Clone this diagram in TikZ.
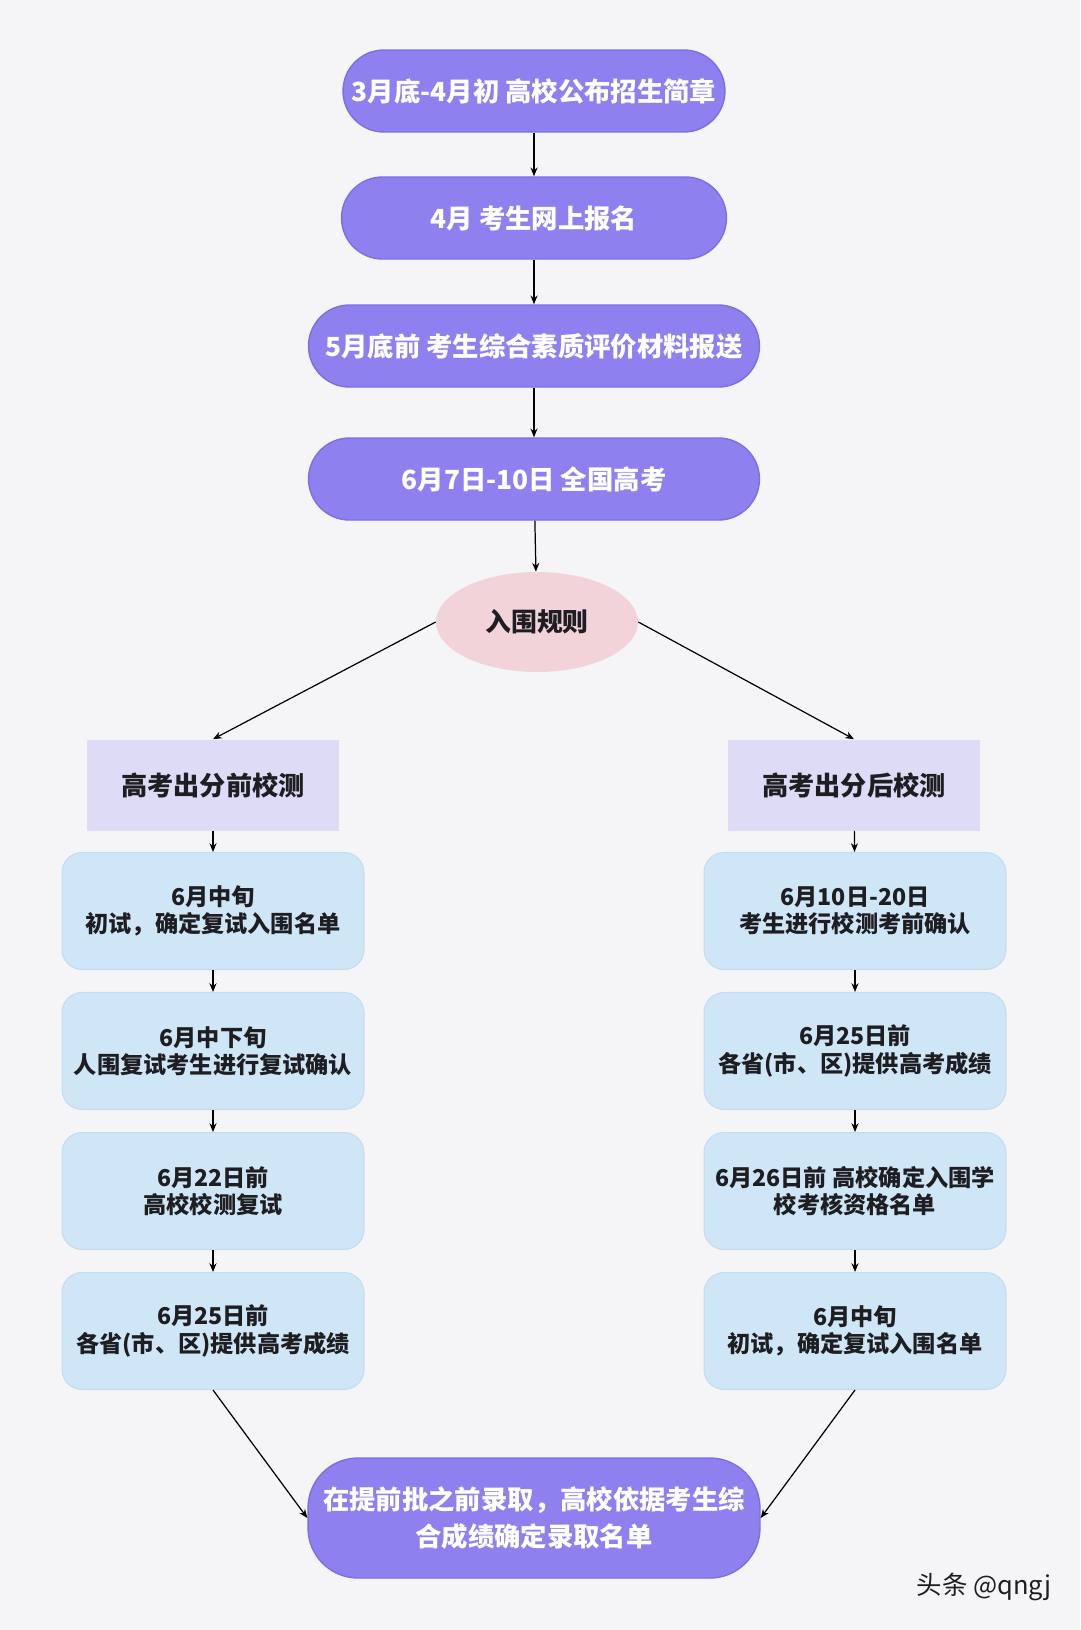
\documentclass[tikz,border=0pt]{standalone}
\usepackage{fontspec}
\setmainfont{Noto Sans CJK SC}
\usetikzlibrary{positioning, arrows.meta, shapes.geometric}
\definecolor{pagegrey}{RGB}{245,245,247}
\definecolor{stagepurple}{RGB}{143,128,240}
\definecolor{stageedge}{RGB}{125,110,228}
\definecolor{rulepink}{RGB}{242,211,218}
\definecolor{headlilac}{RGB}{221,219,246}
\definecolor{stepblue}{RGB}{207,230,247}
\definecolor{stepedge}{RGB}{195,220,240}
\definecolor{inkgrey}{RGB}{30,30,34}

\begin{document}
\begin{tikzpicture}[x=0.02cm, y=-0.02cm,
  every node/.style={font=\bfseries},
  stage/.style={fill=stagepurple, draw=stageedge, line width=0.8pt, rounded corners=0.82cm,
    minimum height=1.64cm, text=white, align=center, font=\bfseries\fontsize{15}{21}\selectfont},
  rule/.style={ellipse, fill=rulepink, minimum width=4.04cm, minimum height=2.0cm,
    text=inkgrey, font=\bfseries\fontsize{14.7}{18}\selectfont},
  track/.style={fill=headlilac, minimum width=5.04cm, minimum height=1.82cm,
    text=inkgrey, font=\bfseries\fontsize{14.9}{18}\selectfont},
  stepbox/.style={fill=stepblue, draw=stepedge, line width=0.6pt, rounded corners=0.4cm,
    minimum width=6.04cm, minimum height=2.34cm, text=inkgrey, align=center,
    font=\bfseries\fontsize{13.2}{15.6}\selectfont},
  arr/.style={-{Stealth[length=5pt, width=4pt]}, line width=0.7pt, black}]

% Page
\fill[pagegrey] (0,0) rectangle (1080,1630);
\useasboundingbox (0,0) rectangle (1080,1630);

% Common stages
\node[stage, minimum width=7.64cm] (sA) at (534,91) {3月底-4月初 高校公布招生简章};
\node[stage, minimum width=7.70cm] (sB) at (534,218) {4月 考生网上报名};
\node[stage, minimum width=9.02cm] (sC) at (534,346) {5月底前 考生综合素质评价材料报送};
\node[stage, minimum width=9.02cm] (sD) at (534,479) {6月7日-10日 全国高考};

\node[rule] (rule) at (537,622) {入围规则};

% Two tracks
\node[track] (before) at (213,785) {高考出分前校测};
\node[track] (after) at (854,785) {高考出分后校测};

% Left column
\node[stepbox] (b1) at (213,911) {6月中旬\\初试，确定复试入围名单};
\node[stepbox] (b2) at (213,1051) {6月中下旬\\人围复试考生进行复试确认};
\node[stepbox] (b3) at (213,1191) {6月22日前\\高校校测复试};
\node[stepbox] (b4) at (213,1331) {6月25日前\\各省(市、区)提供高考成绩};

% Right column
\node[stepbox] (a1) at (855,911) {6月10日-20日\\考生进行校测考前确认};
\node[stepbox] (a2) at (855,1051) {6月25日前\\各省(市、区)提供高考成绩};
\node[stepbox] (a3) at (855,1191) {6月26日前 高校确定入围学\\校考核资格名单};
\node[stepbox] (a4) at (855,1331) {6月中旬\\初试，确定复试入围名单};

% Final stage
\node[stage, minimum width=9.04cm, minimum height=2.4cm, rounded corners=1.0cm] (final) at (534,1518)
  {在提前批之前录取，高校依据考生综\\合成绩确定录取名单};

% Watermark
\node[font=\fontsize{14.5}{16}\selectfont, text=inkgrey] (mark) at (984,1587) {头条 @qngj};

% Connectors
\draw[arr] (sA) -- (sB);
\draw[arr] (sB) -- (sC);
\draw[arr] (sC) -- (sD);
\draw[arr] (sD) -- (rule);
\draw[arr] (rule.west) -- (before.north);
\draw[arr] (rule.east) -- (after.north);
\draw[arr] (before) -- (b1);
\draw[arr] (b1) -- (b2);
\draw[arr] (b2) -- (b3);
\draw[arr] (b3) -- (b4);
\draw[arr] (after) -- (a1);
\draw[arr] (a1) -- (a2);
\draw[arr] (a2) -- (a3);
\draw[arr] (a3) -- (a4);
\draw[arr] (b4.south) -- (final.west);
\draw[arr] (a4.south) -- (final.east);

\end{tikzpicture}
\end{document}
